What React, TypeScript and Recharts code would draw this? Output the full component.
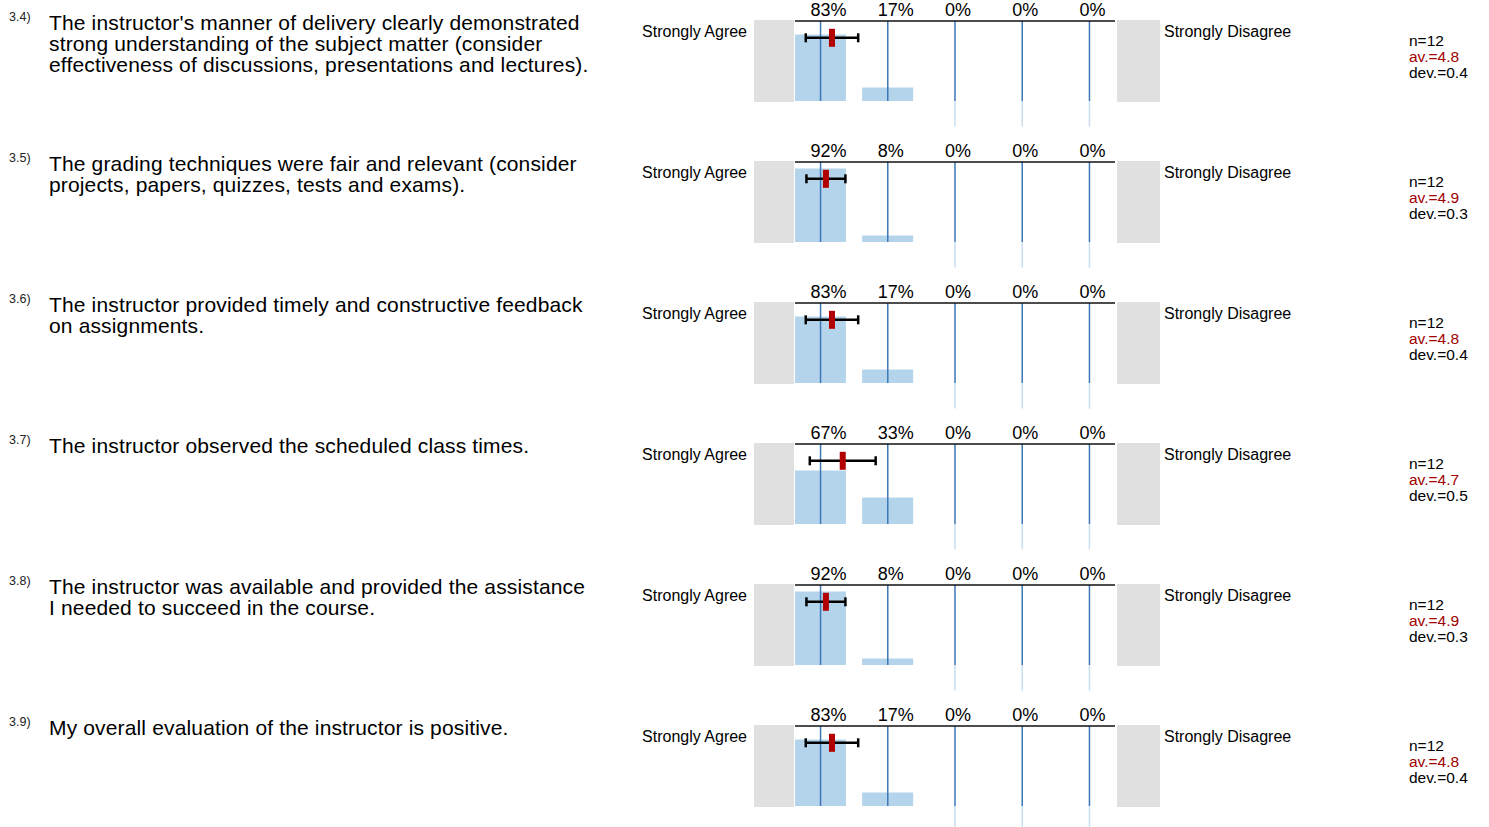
import React from 'react';
import {
  ComposedChart,
  Bar,
  XAxis,
  YAxis,
  Scatter,
  ErrorBar,
  ReferenceLine,
  ReferenceArea,
} from 'recharts';

const QUESTION_IDS = ['3.4)', '3.5)', '3.6)', '3.7)', '3.8)', '3.9)'];

const QUESTION_LINES = [
  [
    "The instructor's manner of delivery clearly demonstrated",
    'strong understanding of the subject matter (consider',
    'effectiveness of discussions, presentations and lectures).',
  ],
  [
    'The grading techniques were fair and relevant (consider',
    'projects, papers, quizzes, tests and exams).',
  ],
  ['The instructor provided timely and constructive feedback', 'on assignments.'],
  ['The instructor observed the scheduled class times.'],
  [
    'The instructor was available and provided the assistance',
    'I needed to succeed in the course.',
  ],
  ['My overall evaluation of the instructor is positive.'],
];

// 5 = Strongly Agree ... 1 = Strongly Disagree
const SCALE_VALUES = [5, 4, 3, 2, 1];

const PERCENTS = [
  [83, 17, 0, 0, 0],
  [92, 8, 0, 0, 0],
  [83, 17, 0, 0, 0],
  [67, 33, 0, 0, 0],
  [92, 8, 0, 0, 0],
  [83, 17, 0, 0, 0],
];

const COUNTS = [12, 12, 12, 12, 12, 12];
const MEANS = [4.83, 4.92, 4.83, 4.67, 4.92, 4.83];
const DEVS = [0.39, 0.29, 0.39, 0.49, 0.29, 0.39];

const LEFT_POLE = 'Strongly Agree';
const RIGHT_POLE = 'Strongly Disagree';

const FONT = '"Liberation Sans", Arial, Helvetica, sans-serif';
const ROW_STEP = 141;
const X_DOMAIN: [number, number] = [0.62, 5.38];
const BAR_FILL = '#b4d4eb';
const LINE_BLUE = '#3d78b6';
const LINE_LIGHT = '#c8def1';
const BOX_GRAY = '#e0e0e0';
const MEAN_RED = '#b20000';
const AXIS_DARK = '#111';

const MeanMarker = (props: any) => {
  const { cx, cy } = props;
  if (cx == null || cy == null) return null;
  return <rect x={cx - 3} y={cy - 9} width={6} height={18} fill={MEAN_RED} />;
};

const QuestionRow = ({ index }: { index: number }) => {
  const top = index * ROW_STEP;
  const pcts = PERCENTS[index];
  const barData = SCALE_VALUES.map((v, i) => ({ x: v, pct: pcts[i] }));
  const meanData = [{ x: MEANS[index], y: 79, err: DEVS[index] }];

  return (
    <>
      <div style={{ position: 'absolute', left: 9, top: top + 10, fontSize: 12.5, color: '#222' }}>
        {QUESTION_IDS[index]}
      </div>
      <div
        style={{
          position: 'absolute',
          left: 49,
          top: top + 11.5,
          fontSize: 21,
          lineHeight: '21px',
          letterSpacing: '0.15px',
        }}
      >
        {QUESTION_LINES[index].map((line) => (
          <div key={line} style={{ whiteSpace: 'nowrap' }}>
            {line}
          </div>
        ))}
      </div>

      <div
        style={{
          position: 'absolute',
          right: 1489 - 747,
          top: top + 24,
          fontSize: 16,
          lineHeight: '16px',
          whiteSpace: 'nowrap',
        }}
      >
        {LEFT_POLE}
      </div>
      <div
        style={{
          position: 'absolute',
          left: 1164,
          top: top + 24,
          fontSize: 16,
          lineHeight: '16px',
          whiteSpace: 'nowrap',
        }}
      >
        {RIGHT_POLE}
      </div>

      <div style={{ position: 'absolute', left: 1409, top: top + 33, fontSize: 15.5, lineHeight: '16px' }}>
        <div>n={COUNTS[index]}</div>
        <div style={{ color: '#a00000' }}>av.={MEANS[index].toFixed(1)}</div>
        <div>dev.={DEVS[index].toFixed(1)}</div>
      </div>

      <div style={{ position: 'absolute', left: 740, top }}>
        <ComposedChart
          width={440}
          height={131}
          data={barData}
          margin={{ top: 0, right: 65, bottom: 30, left: 55 }}
        >
          <XAxis
            xAxisId="top"
            orientation="top"
            type="number"
            dataKey="x"
            domain={X_DOMAIN}
            reversed
            allowDataOverflow
            ticks={SCALE_VALUES}
            interval={0}
            tickFormatter={(v: number) => `${pcts[SCALE_VALUES.indexOf(v)]}%`}
            height={21}
            tickLine={false}
            tickSize={0}
            tickMargin={5}
            axisLine={{ stroke: AXIS_DARK, strokeWidth: 1.5 }}
            tick={{ fill: '#000', fontSize: 18, textAnchor: 'start', dx: -10 }}
          />
          <XAxis
            type="number"
            dataKey="x"
            domain={X_DOMAIN}
            reversed
            allowDataOverflow
            ticks={SCALE_VALUES}
            height={0}
            tick={false}
            tickLine={false}
            axisLine={{ stroke: AXIS_DARK, strokeWidth: 1.5 }}
          />
          <XAxis
            xAxisId="mean"
            type="number"
            dataKey="x"
            domain={X_DOMAIN}
            reversed
            allowDataOverflow
            hide
          />
          <YAxis hide domain={[0, 100]} allowDataOverflow />

          <ReferenceArea x1={5.99} x2={5.395} y1={-1.25} y2={101.25} fill={BOX_GRAY} fillOpacity={1} stroke="none" ifOverflow="visible" />
          <ReferenceArea x1={0.59} x2={-0.05} y1={-1.25} y2={101.25} fill={BOX_GRAY} fillOpacity={1} stroke="none" ifOverflow="visible" />

          <Bar dataKey="pct" fill={BAR_FILL} barSize={51} isAnimationActive={false} />

          {SCALE_VALUES.map((v) => (
            <ReferenceLine key={`v-${v}`} x={v} stroke={LINE_BLUE} strokeWidth={1.5} />
          ))}
          {SCALE_VALUES.filter((v, i) => pcts[i] === 0).map((v) => (
            <ReferenceLine
              key={`ext-${v}`}
              segment={[
                { x: v, y: 0 },
                { x: v, y: -32 },
              ]}
              stroke={LINE_LIGHT}
              strokeWidth={1.5}
              ifOverflow="visible"
            />
          ))}

          <Scatter
            xAxisId="mean"
            data={meanData}
            dataKey="y"
            shape={MeanMarker}
            isAnimationActive={false}
          >
            <ErrorBar
              dataKey="err"
              direction="x"
              width={4.5}
              strokeWidth={2.5}
              stroke="#000"
              isAnimationActive={false}
            />
          </Scatter>
        </ComposedChart>
      </div>
    </>
  );
};

export default function App() {
  return (
    <div
      style={{
        position: 'absolute',
        left: 0,
        top: 0,
        width: 1489,
        height: 827,
        background: '#fff',
        fontFamily: FONT,
        color: '#000',
        overflow: 'hidden',
      }}
    >
      {QUESTION_IDS.map((id, i) => (
        <QuestionRow key={id} index={i} />
      ))}
    </div>
  );
}
